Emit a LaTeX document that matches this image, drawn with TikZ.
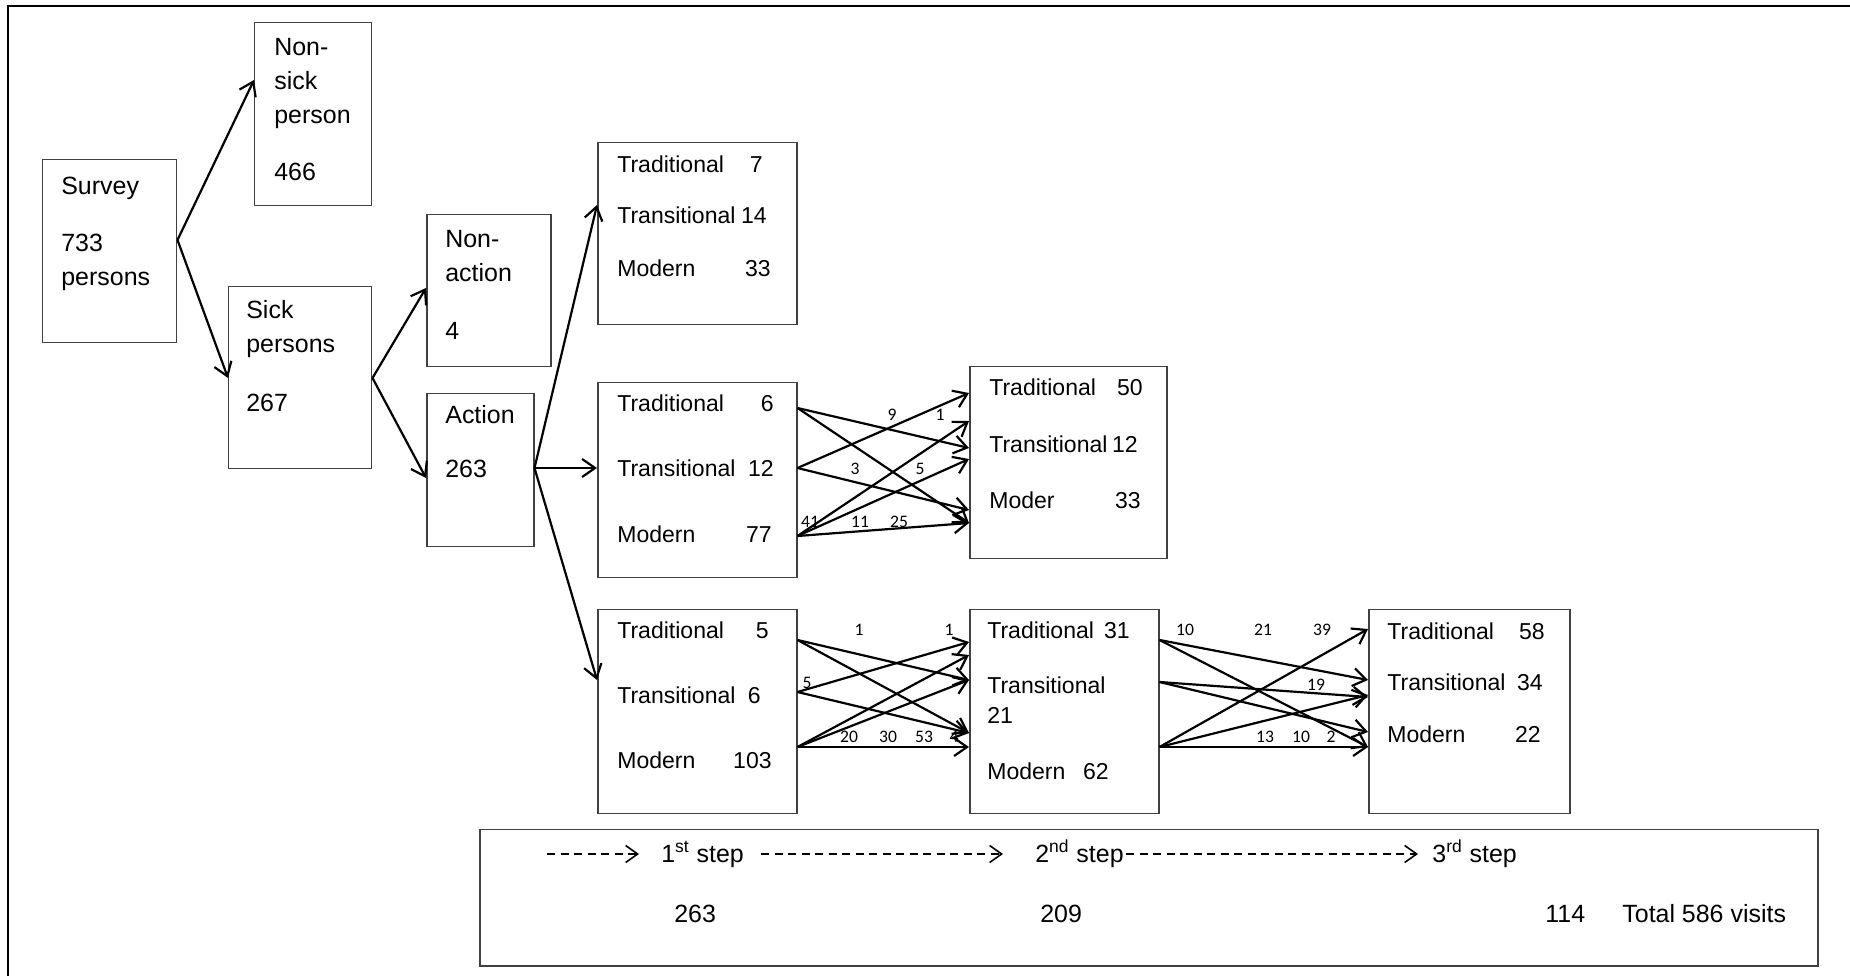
\documentclass[tikz,border=0pt]{standalone}
\usepackage{fontspec}
\setmainfont{Liberation Sans}
\newfontfamily\calfont{Carlito}
\usetikzlibrary{arrows.meta}

\tikzset{
  box/.style 2 args={draw=black!75, line width=0.85pt, inner sep=0pt, anchor=north west,
    minimum width=#1*0.2mm, minimum height=#2*0.2mm},
  txt/.style={anchor=base west, inner sep=0pt, font=\fontsize{14.2pt}{17pt}\selectfont},
  rowtxt/.style={anchor=base west, inner sep=0pt, font=\fontsize{13.1pt}{16pt}\selectfont},
  rnum/.style={anchor=base east, inner sep=0pt, font=\fontsize{13.1pt}{16pt}\selectfont},
  cnt/.style={inner sep=0pt, font=\calfont\fontsize{10pt}{12pt}\selectfont},
  arr/.style={line width=1.25pt, -{Straight Barb[length=2.6mm,width=3.6mm]}},
  dasharr/.style={line width=0.9pt, dash pattern=on 1.6mm off 1.1mm,
    -{Straight Barb[length=2.4mm,width=3.4mm]}},
}

\begin{document}
\begin{tikzpicture}[x=0.2mm, y=-0.2mm]
\useasboundingbox (0,0) rectangle (1850,976);
% outer frame
\draw[line width=1.3pt] (1860,6) -- (8,6) -- (8,986);

% boxes
\node[box={134}{183}] (survey) at (42,159) {};
\node[box={117}{183}] (nonsick) at (254,22) {};
\node[box={143}{182}] (sick) at (228,286) {};
\node[box={124}{152}] (nonact) at (426,214) {};
\node[box={107}{153}] (act) at (426,393) {};
\node[box={199}{182}] (t1) at (597,142) {};
\node[box={199}{195}] (m1) at (597,382) {};
\node[box={197}{192}] (m2) at (969,366) {};
\node[box={199}{204}] (b1) at (597,609) {};
\node[box={189}{204}] (b2) at (969,609) {};
\node[box={201}{204}] (b3) at (1368,609) {};

% texts of the left boxes
\foreach \t/\y [count=\i] in {Survey/195, 733/252, persons/286}
  \node[txt] (sv\i) at (61,\y) {\t};
\foreach \t/\y [count=\i] in {Non-/56, sick/90, person/124, 466/181}
  \node[txt] (ns\i) at (274,\y) {\t};
\foreach \t/\y [count=\i] in {Sick/319, persons/353, 267/412}
  \node[txt] (sk\i) at (246,\y) {\t};
\foreach \t/\y [count=\i] in {Non-/248, action/282, 4/340}
  \node[txt] (na\i) at (445,\y) {\t};
\foreach \t/\y [count=\i] in {Action/424, 263/478}
  \node[txt] (ac\i) at (445,\y) {\t};

% rows of the step boxes
\foreach \t/\n/\y/\r [count=\i] in {Traditional/7/173/763, Transitional/14/224/767, Modern/33/277/771} {
  \node[rowtxt] (t1l\i) at (617,\y) {\t};
  \node[rnum] (t1n\i) at (\r,\y) {\n};
}
\foreach \t/\n/\y/\r [count=\i] in {Traditional/6/412/774, Transitional/12/477/774, Modern/77/542/772} {
  \node[rowtxt] (m1l\i) at (617,\y) {\t};
  \node[rnum] (m1n\i) at (\r,\y) {\n};
}
\foreach \t/\n/\y/\r [count=\i] in {Traditional/50/396/1143, Transitional/12/453/1138, Moder/33/508/1141} {
  \node[rowtxt] (m2l\i) at (989,\y) {\t};
  \node[rnum] (m2n\i) at (\r,\y) {\n};
}
\foreach \t/\n/\y/\r [count=\i] in {Traditional/5/638/769, Transitional/6/703/761, Modern/103/768/772} {
  \node[rowtxt] (b1l\i) at (617,\y) {\t};
  \node[rnum] (b1n\i) at (\r,\y) {\n};
}
\node[rowtxt] (b2l1) at (987,638) {Traditional};
\node[rnum] (b2n1) at (1130,638) {31};
\node[rowtxt] (b2l2) at (987,693) {Transitional};
\node[rowtxt] (b2n2) at (987,723) {21};
\node[rowtxt] (b2l3) at (987,779) {Modern};
\node[rnum] (b2n3) at (1109,779) {62};
\foreach \t/\n/\y/\r [count=\i] in {Traditional/58/639/1545, Transitional/34/690/1543, Modern/22/742/1541} {
  \node[rowtxt] (b3l\i) at (1387,\y) {\t};
  \node[rnum] (b3n\i) at (\r,\y) {\n};
}

% tree arrows
\draw[arr] (survey.east |- 0,240) -- (nonsick.west |- 0,80);
\draw[arr] (survey.east |- 0,240) -- (sick.west |- 0,378);
\draw[arr] (sick.east |- 0,378) -- (nonact.west |- 0,288);
\draw[arr] (sick.east |- 0,378) -- (act.west |- 0,478);
\draw[arr] (act.east |- 0,468) -- (t1.west |- 0,205);
\draw[arr] (act.east |- 0,468) -- (m1.west |- 0,468);
\draw[arr] (act.east |- 0,468) -- (b1.west |- 0,680);

% crossing arrows
\foreach \s/\t in {408/448, 408/523, 468/393, 468/510, 536/421, 536/459, 536/523}
  \draw[arr] (m1.east |- 0,\s) -- (m2.west |- 0,\t);
\foreach \s/\t in {640/680, 640/733, 692/642, 692/733, 747/655, 747/680, 747/747}
  \draw[arr] (b1.east |- 0,\s) -- (b2.west |- 0,\t);
\foreach \s/\t in {640/680, 640/747, 682/697, 682/732, 747/629, 747/695, 747/747}
  \draw[arr] (b2.east |- 0,\s) -- (b3.west |- 0,\t);

% counts on the arrows
\foreach \t/\x/\y [count=\i] in {9/892/415, 1/940/415, 3/855/469, 5/920/469, 41/810/522, 11/860/522, 25/899/522}
  \node[cnt] (mc\i) at (\x,\y) {\t};
\foreach \t/\x/\y [count=\i] in {1/859/630, 1/949/630, 5/807/683, 20/849/737, 30/888/737, 53/924/737, 4/954/737}
  \node[cnt] (bc\i) at (\x,\y) {\t};
\foreach \t/\x/\y [count=\i] in {10/1185/630, 21/1263/630, 39/1322/630, 19/1316/685, 13/1265/737, 10/1301/737, 2/1331/737}
  \node[cnt] (rc\i) at (\x,\y) {\t};

% legend
\node[box={1338}{136}] (leg) at (479,829) {};
\coordinate (s0) at (547,854);
\node[txt] (st1) at (661,862) {1\textsuperscript{st} step};
\node[txt] (st2) at (1035,862) {2\textsuperscript{nd} step};
\node[txt] (st3) at (1432,862) {3\textsuperscript{rd} step};
\draw[dasharr, shorten >=4.4mm] (s0) -- (s0 -| st1.west);
\draw[dasharr, shorten <=3.4mm, shorten >=6.4mm] (st1.east |- s0) -- (st2.west |- s0);
\draw[dasharr, shorten <=0.4mm, shorten >=2.8mm] (st2.east |- s0) -- (st3.west |- s0);
\node[txt] (v1) at (674,922) {263};
\node[txt] (v2) at (1040,922) {209};
\node[txt] (v3) at (1545,922) {114};
\node[txt] (vt) at (1622,922) {Total 586 visits};
\end{tikzpicture}
\end{document}
